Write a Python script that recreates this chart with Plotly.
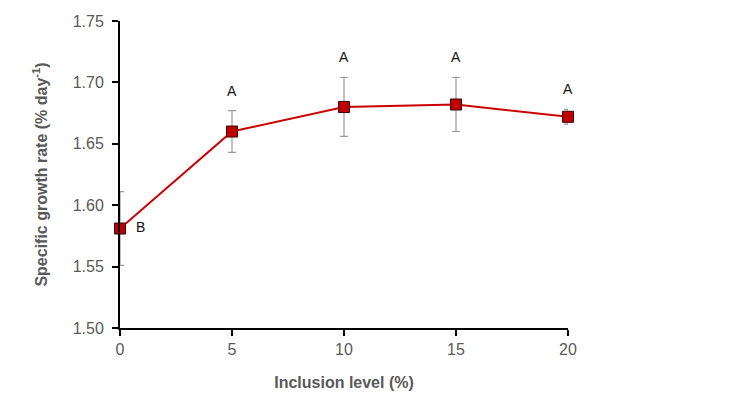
import plotly.graph_objects as go

# Specific growth rate by dietary inclusion level
inclusion = [0, 5, 10, 15, 20]
sgr = [1.581, 1.660, 1.680, 1.682, 1.672]
sgr_err = [0.030, 0.017, 0.024, 0.022, 0.006]
groups = ["B", "A", "A", "A", "A"]
tick_vals = [1.50, 1.55, 1.60, 1.65, 1.70, 1.75]

fig = go.Figure()
fig.add_trace(go.Scatter(
    x=inclusion, y=sgr,
    mode="lines+markers",
    line=dict(color="#cc0000", width=2),
    marker=dict(symbol="square", size=11, color="#c00000",
                line=dict(color="#3a0000", width=1)),
    error_y=dict(type="data", array=sgr_err, visible=True,
                 color="#9a9a9a", thickness=1.2, width=4),
    cliponaxis=False,
    showlegend=False,
))

# significance letters
for x, y, e, g in zip(inclusion, sgr, sgr_err, groups):
    if g == "B":
        fig.add_annotation(x=x, y=y, text=g, showarrow=False,
                           xanchor="left", xshift=14, yshift=2,
                           font=dict(family="Liberation Sans, Arial", size=14, color="#111111"))
    else:
        fig.add_annotation(x=x, y=y + e, text=g, showarrow=False,
                           yanchor="bottom", yshift=10,
                           font=dict(family="Liberation Sans, Arial", size=14, color="#111111"))

sans = "Liberation Sans, Arial"
tick_font = dict(family=sans, size=16, color="#595959")
title_font = dict(family=sans, size=16, color="#595959")

fig.update_layout(
    width=734, height=407,
    margin=dict(l=120, r=166, t=21, b=79),
    paper_bgcolor="white", plot_bgcolor="white",
    xaxis=dict(
        range=[0, 20], tickvals=inclusion, ticks="outside", ticklen=6,
        tickwidth=2, tickcolor="black", showline=True, linecolor="black",
        linewidth=2, showgrid=False, zeroline=False, tickfont=tick_font,
        title=dict(text="<b>Inclusion level (%)</b>", font=title_font, standoff=20),
    ),
    yaxis=dict(
        range=[1.50, 1.75], tickvals=tick_vals, tickformat=".2f",
        ticks="outside", ticklen=6, tickwidth=2, tickcolor="black",
        showline=True, linecolor="black", linewidth=2, showgrid=False,
        zeroline=False, tickfont=tick_font, ticklabelstandoff=5,
        title=dict(text="<b>Specific growth rate (% day<sup>-1</sup>)</b>",
                   font=title_font, standoff=21),
    ),
)

fig.write_html("out.html")
